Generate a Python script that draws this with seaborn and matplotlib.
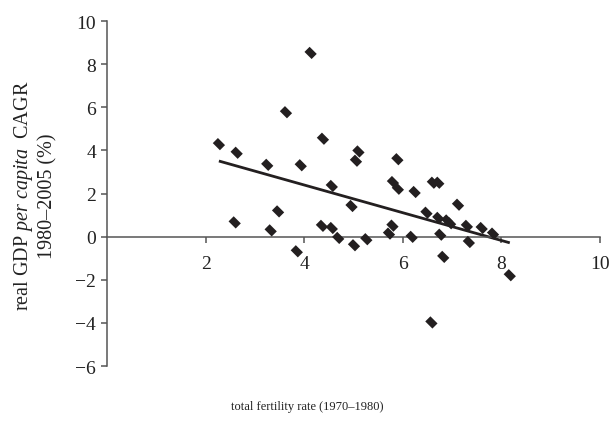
import numpy as np
import pandas as pd
import matplotlib
matplotlib.use("Agg")
import matplotlib.pyplot as plt
import seaborn as sns

# data
fertility = [2.27, 2.63, 3.25, 3.93, 3.47, 2.59, 3.32, 3.85, 4.13, 3.63,
             4.38, 5.10, 5.05, 4.56, 4.96, 5.89, 5.80, 5.90, 6.24, 6.61,
             6.72, 7.12, 6.48, 6.72, 6.90, 6.96, 7.30, 7.60, 7.83, 5.79,
             5.72, 6.18, 6.76, 7.34, 6.82, 8.17, 6.58, 4.36, 4.56, 4.69,
             5.01, 5.26]
gdp_growth = [4.29, 3.89, 3.33, 3.31, 1.17, 0.66, 0.29, -0.68, 8.52, 5.77,
              4.54, 3.95, 3.52, 2.35, 1.42, 3.59, 2.53, 2.22, 2.07, 2.50,
              2.50, 1.48, 1.11, 0.87, 0.75, 0.62, 0.50, 0.40, 0.14, 0.51,
              0.14, -0.01, 0.09, -0.25, -0.94, -1.79, -3.98, 0.50, 0.40, -0.06,
              -0.40, -0.12]
x_ticks = [2, 4, 6, 8, 10]
y_ticks = [-6, -4, -2, 0, 2, 4, 6, 8, 10]

df = pd.DataFrame({"tfr": fertility, "gdp": gdp_growth})

sns.set_theme(style="white")
plt.rcParams["font.family"] = ["Liberation Serif", "DejaVu Serif"]
plt.rcParams["mathtext.fontset"] = "custom"
plt.rcParams["mathtext.rm"] = "Liberation Serif"
plt.rcParams["mathtext.it"] = "Liberation Serif:italic"

fig = plt.figure(figsize=(6.12, 4.27), dpi=100)
ax = fig.add_axes([107 / 612, 60 / 427, 493 / 612, 345 / 427])

# elongated diamond marker
a, b = 1.0, 0.72
r = np.sqrt(0.5)
verts = [((x + y) * r, (-x + y) * r) for x, y in [(a, b), (a, -b), (-a, -b), (-a, b), (a, b)]]

ink = "#231f20"
sns.scatterplot(data=df, x="tfr", y="gdp", marker=verts, s=78, color=ink,
                edgecolor="none", linewidth=0, ax=ax, zorder=3)
sns.regplot(data=df, x="tfr", y="gdp", scatter=False, ci=None, truncate=True,
            color=ink, line_kws={"linewidth": 2.0, "solid_capstyle": "butt"}, ax=ax)

ax.set_xlim(0, 10)
ax.set_ylim(-6, 10)
ax.set_xticks(x_ticks)
ax.set_yticks(y_ticks)
ax.set_xticklabels([str(t) for t in x_ticks])
ax.set_yticklabels([str(t).replace("-", "\u2212") for t in y_ticks])

for side in ["top", "right"]:
    ax.spines[side].set_visible(False)
ax.spines["bottom"].set_position(("data", 0))
ax.spines["left"].set_position(("data", 0))
for side in ["bottom", "left"]:
    ax.spines[side].set_color("#555555")
    ax.spines[side].set_linewidth(1.1)

ax.tick_params(axis="both", direction="out", length=4, width=1.1, color="#555555",
               labelsize=14, labelcolor="#222222")
ax.tick_params(axis="x", pad=9, bottom=True)
ax.tick_params(axis="y", pad=4, left=True)
ax.set_xlabel("")
ax.set_ylabel("")
ax.grid(False)

fig.text(35 / 612, 1 - 196 / 427,
         "real GDP $\\it{per\\ capita}$  CAGR\n1980\u20132005 (%)",
         rotation=90, ha="center", va="center", multialignment="center",
         fontsize=14.5, color="#222222")
fig.text(307 / 612, 1 - 407 / 427, "total fertility rate (1970\u20131980)",
         ha="center", va="center", fontsize=9, color="#222222")

fig.savefig("out.png", dpi=100)
